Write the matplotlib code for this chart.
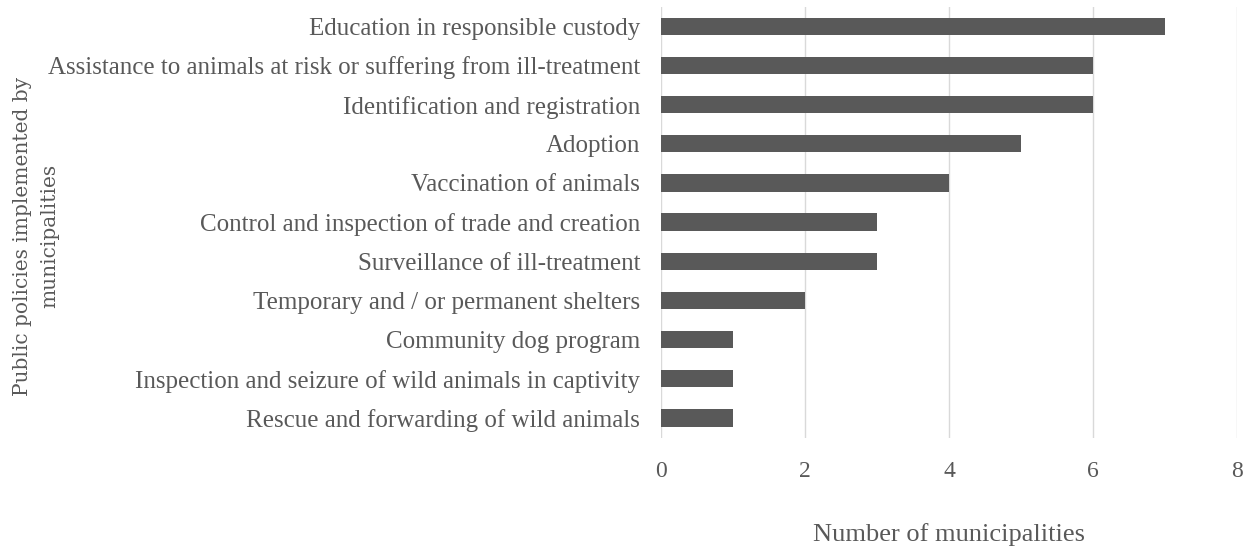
import matplotlib
matplotlib.use("Agg")
import matplotlib.pyplot as plt

# policies, listed bottom to top as drawn
policies = [
    "Rescue and forwarding of wild animals",
    "Inspection and seizure of wild animals in captivity",
    "Community dog program",
    "Temporary and / or permanent shelters",
    "Surveillance of ill-treatment",
    "Control and inspection of trade and creation",
    "Vaccination of animals",
    "Adoption",
    "Identification and registration",
    "Assistance to animals at risk or suffering from ill-treatment",
    "Education in responsible custody",
]
counts = [1, 1, 1, 2, 3, 3, 4, 5, 6, 6, 7]
xticks = [0, 2, 4, 6, 8]

txt = "#595959"
fig = plt.figure(figsize=(12.46, 5.48), dpi=100)
ax = fig.add_axes([0.5305, 0.2015, 0.4623, 0.7865])

ax.barh(range(len(policies)), counts, height=0.44, color="#595959", zorder=3)
ax.set_xlim(0, 8)
ax.set_ylim(-0.5, len(policies) - 0.5)
ax.set_xticks(xticks)
ax.set_yticks(range(len(policies)))
ax.set_yticklabels(policies, fontsize=18, family="Liberation Serif", color=txt)
for lab in ax.get_xticklabels():
    lab.set_fontsize(17)
    lab.set_family("Liberation Serif")
    lab.set_color(txt)
ax.tick_params(axis="both", length=0)
ax.tick_params(axis="y", pad=15)
ax.tick_params(axis="x", pad=17)
ax.grid(axis="x", color="#d9d9d9", linewidth=1, zorder=0)
for s in ax.spines.values():
    s.set_visible(False)

fig.text(0.7615, 1 - 535 / 548, "Number of municipalities", ha="center", va="center",
         fontsize=19, family="Liberation Serif", color=txt)
fig.text(0.029, 0.569, "Public policies implemented by\nmunicipalities", rotation=90,
         ha="center", va="center", fontsize=14.5, family="DejaVu Serif", color=txt,
         linespacing=1.55)

fig.savefig("out.png", dpi=100)
